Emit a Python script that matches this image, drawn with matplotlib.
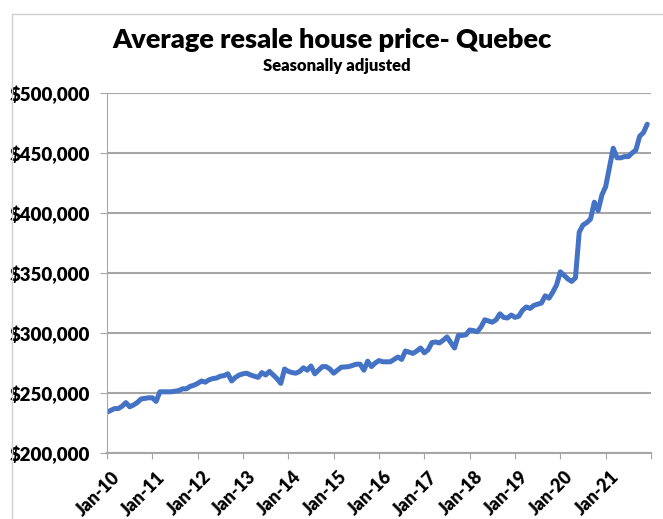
import numpy as np
import matplotlib
matplotlib.use("Agg")
import matplotlib.pyplot as plt
from matplotlib.patches import Rectangle
from matplotlib.ticker import FuncFormatter
from matplotlib.transforms import ScaledTranslation

plt.rcParams['font.family'] = ['Lato', 'DejaVu Sans']
plt.rcParams['font.weight'] = 'heavy'

# monthly average price, Jan 2010 .. Dec 2021 (thousands $)
y2010 = [234, 235.5, 237, 237, 239, 242, 238.5, 240, 242, 245, 245.5, 246]
y2011 = [246, 243, 251, 251, 251, 251, 251.5, 252, 253.5, 253.5, 255.5, 256.5]
y2012 = [258, 260, 259, 261, 262, 262.5, 264, 264.5, 266, 260, 263, 265]
y2013 = [266, 266.5, 265, 264, 263, 267, 265, 268, 265, 262, 258, 270]
y2014 = [268, 267, 266.5, 268, 271, 269, 272.5, 266, 269, 272, 272, 270]
y2015 = [266.5, 269, 271.5, 271.7, 272, 273, 274, 274, 269, 276.5, 272, 275]
y2016 = [277, 276, 276, 276, 278, 280, 278, 285, 284, 283, 285, 287.5]
y2017 = [283.5, 286, 292, 292.5, 291.7, 294, 296.7, 292, 287.5, 298, 298, 298.5]
y2018 = [302.5, 302, 301, 305, 311, 310, 309, 311, 316, 313, 312.5, 315]
y2019 = [313, 314, 319, 321.7, 320.5, 323, 324, 325, 331, 329, 334, 340]
y2020 = [351, 348, 345, 343, 346, 384, 390, 392, 395, 409, 402, 415]
y2021 = [422, 438, 454, 446, 446, 447, 447, 450, 452.5, 464, 467, 474]

price = np.array(y2010 + y2011 + y2012 + y2013 + y2014 + y2015 +
                 y2016 + y2017 + y2018 + y2019 + y2020 + y2021) * 1000
months = np.arange(len(price))
tick_labels = ['Jan-10', 'Jan-11', 'Jan-12', 'Jan-13', 'Jan-14', 'Jan-15',
               'Jan-16', 'Jan-17', 'Jan-18', 'Jan-19', 'Jan-20', 'Jan-21']

fig = plt.figure(figsize=(6.63, 5.19), dpi=100)
ax = fig.add_axes([107/663, 1 - 453/519, (651 - 107)/663, (453 - 93)/519])

ax.plot(months, price, color='#4472C4', lw=3.6, solid_capstyle='round', solid_joinstyle='round')

ax.set_xlim(0, 144)
ax.set_ylim(200000, 500000)
ax.set_yticks(np.arange(200000, 500001, 50000))
ax.yaxis.set_major_formatter(FuncFormatter(lambda v, p: '${:,.0f}'.format(v)))
ax.set_xticks(np.arange(0, 145, 12))
ax.set_xticklabels(tick_labels + [''], rotation=45, ha='right', va='top',
                   rotation_mode='anchor')

ax.grid(axis='y', color='#a6a6a6', lw=1.5)
ax.set_axisbelow(True)
for s in ['top', 'right']:
    ax.spines[s].set_visible(False)
ax.spines['left'].set_color('#a6a6a6')
ax.spines['bottom'].set_color('#a6a6a6')
ax.spines['bottom'].set_linewidth(1.5)
ax.tick_params(axis='y', length=5, color='#a6a6a6', labelsize=13.4, pad=7)
ax.tick_params(axis='x', length=4, color='#a6a6a6', labelsize=12.8, pad=7)
shift = ScaledTranslation(3/72, 0, fig.dpi_scale_trans)
for lab in ax.get_xticklabels():
    lab.set_fontweight('heavy')
    lab.set_transform(lab.get_transform() + shift)
for lab in ax.get_yticklabels():
    lab.set_fontweight('heavy')

fig.text(332/663, 1 - 40/519, 'Average resale house price- Quebec', ha='center',
         va='center', fontsize=19.5, fontweight='heavy')
fig.text(337/663, 1 - 66/519, 'Seasonally adjusted', ha='center',
         va='center', fontsize=12, fontweight='heavy')

fig.patches.append(Rectangle((12/663, -0.1), 1.2, 1 - 14/519 + 0.1,
                             transform=fig.transFigure, fill=False,
                             edgecolor='#d0d0d0', lw=1))

fig.savefig('out.png', dpi=100)
